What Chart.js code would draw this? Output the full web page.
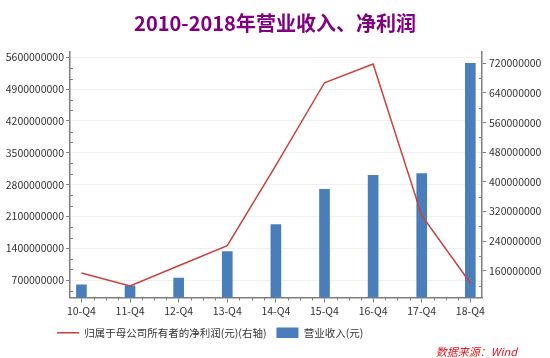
<!DOCTYPE html>
<html>
<head>
<meta charset="utf-8">
<script src="https://cdn.jsdelivr.net/npm/chart.js@4.4.1/dist/chart.umd.min.js"></script>
<style>
  html, body { margin: 0; padding: 0; background: #fff; }
</style>
</head>
<body>
<canvas id="chart" width="550" height="358"></canvas>
<script>
// data
const categories = ['10-Q4', '11-Q4', '12-Q4', '13-Q4', '14-Q4', '15-Q4', '16-Q4', '17-Q4', '18-Q4'];
const revenue = [596e6, 574e6, 744e6, 1325e6, 1920e6, 2693e6, 3002e6, 3040e6, 5468e6];
const netProfit = [153.8e6, 119e6, 173.5e6, 227.8e6, 444.6e6, 667.6e6, 718e6, 309e6, 126.7e6];
const leftTicks = [700e6, 1400e6, 2100e6, 2800e6, 3500e6, 4200e6, 4900e6, 5600e6];
const rightTicks = [160e6, 240e6, 320e6, 400e6, 480e6, 560e6, 640e6, 720e6];
const titleText = '2010-2018年营业收入、净利润';
const profitLabel = '归属于母公司所有者的净利润(元)(右轴)';
const revenueLabel = '营业收入(元)';
const sourceText = '数据来源：Wind';

const FONT = "'Noto Sans CJK SC', 'Noto Sans', sans-serif";
const AXIS = '#7f7f7f';
Chart.defaults.font.family = FONT;
Chart.defaults.color = '#333';

// small minor ticks like the original
const minorTicks = {
    id: 'minorTicks',
    afterDraw(chart) {
        const ctx = chart.ctx;
        const area = chart.chartArea;
        ctx.save();
        ctx.strokeStyle = AXIS;
        ctx.lineWidth = 1;
        const each = (scale, step, every, fn) => {
            for (let k = Math.ceil(scale.min / step); k * step <= scale.max; k++) {
                if (k % every === 0) continue;
                fn(Math.round(scale.getPixelForValue(k * step)) + 0.5);
            }
        };
        ctx.beginPath();
        each(chart.scales.y, 700e6 / 3, 3, p => { ctx.moveTo(area.left, p); ctx.lineTo(area.left + 3, p); });
        each(chart.scales.y1, 40e6, 2, p => { ctx.moveTo(area.right, p); ctx.lineTo(area.right - 3, p); });
        each(chart.scales.x, 0.25, 4, p => { ctx.moveTo(p, area.bottom); ctx.lineTo(p, area.bottom + 3); });
        ctx.stroke();
        ctx.restore();
    }
};

const sourceNote = {
    id: 'sourceNote',
    afterDraw(chart) {
        const ctx = chart.ctx;
        ctx.save();
        ctx.font = 'italic 11px ' + FONT;
        ctx.fillStyle = '#e8141b';
        ctx.textAlign = 'right';
        ctx.textBaseline = 'middle';
        ctx.fillText(sourceText, 517, 352);
        ctx.restore();
    }
};

// legend sits left of centre in the original
const legendShift = {
    id: 'legendShift',
    afterLayout(chart) {
        chart.legend.left = 47;
    }
};

new Chart(document.getElementById('chart').getContext('2d'), {
    type: 'bar',
    data: {
        datasets: [
            {
                type: 'line',
                label: profitLabel,
                data: categories.map((c, i) => ({ x: i, y: netProfit[i] })),
                borderColor: '#c8413e',
                backgroundColor: '#c8413e',
                borderWidth: 1.5,
                pointRadius: 0,
                pointStyle: 'line',
                tension: 0,
                yAxisID: 'y1',
                order: 0
            },
            {
                type: 'bar',
                label: revenueLabel,
                data: categories.map((c, i) => ({ x: i, y: revenue[i] })),
                backgroundColor: '#4a7ebb',
                borderWidth: 0,
                barThickness: 10,
                yAxisID: 'y',
                order: 1
            }
        ]
    },
    options: {
        responsive: false,
        animation: false,
        layout: { padding: { top: 0, bottom: 10, left: 0, right: 0 } },
        scales: {
            x: {
                type: 'linear',
                min: -0.235,
                max: 8.24,
                offset: false,
                afterBuildTicks: s => { s.ticks = categories.map((c, i) => ({ value: i })); },
                afterFit: s => { s.height = 20; },
                ticks: {
                    autoSkip: false,
                    maxRotation: 0,
                    padding: 2,
                    color: '#333',
                    font: { size: 10.5 },
                    callback: v => categories[v]
                },
                grid: { drawOnChartArea: false, offset: false, tickLength: 5, tickColor: AXIS },
                border: { color: AXIS, width: 1.5 }
            },
            y: {
                position: 'left',
                min: 316e6,
                max: 5717e6,
                afterBuildTicks: s => { s.ticks = leftTicks.map(v => ({ value: v })); },
                afterFit: s => { s.width = 70; },
                ticks: {
                    padding: 2,
                    color: '#333',
                    font: { size: 10.5 },
                    callback: v => v.toFixed(0)
                },
                grid: { color: '#efefef', tickColor: AXIS, tickLength: 4 },
                border: { color: AXIS, width: 1.5 }
            },
            y1: {
                position: 'right',
                min: 87.6e6,
                max: 750.6e6,
                afterBuildTicks: s => { s.ticks = rightTicks.map(v => ({ value: v })); },
                afterFit: s => { s.width = 68; },
                ticks: {
                    padding: 3,
                    color: '#333',
                    font: { size: 10.5 },
                    callback: v => v.toFixed(0)
                },
                grid: { drawOnChartArea: false, tickColor: AXIS, tickLength: 4 },
                border: { color: AXIS, width: 1.5 }
            }
        },
        plugins: {
            title: {
                display: true,
                text: titleText,
                color: '#800080',
                font: { size: 20, weight: 'bold', lineHeight: 1.2 },
                padding: { top: 11, bottom: 17 }
            },
            legend: {
                position: 'bottom',
                align: 'start',
                labels: {
                    usePointStyle: true,
                    pointStyleWidth: 22,
                    padding: 10,
                    color: '#333',
                    font: { size: 10.5 },
                    generateLabels(chart) {
                        const items = Chart.defaults.plugins.legend.labels.generateLabels(chart);
                        items.forEach(it => {
                            it.pointStyle = chart.data.datasets[it.datasetIndex].type === 'line' ? 'line' : 'rect';
                        });
                        return items;
                    }
                }
            },
            tooltip: { enabled: false }
        }
    },
    plugins: [minorTicks, sourceNote, legendShift]
});
</script>
</body>
</html>
